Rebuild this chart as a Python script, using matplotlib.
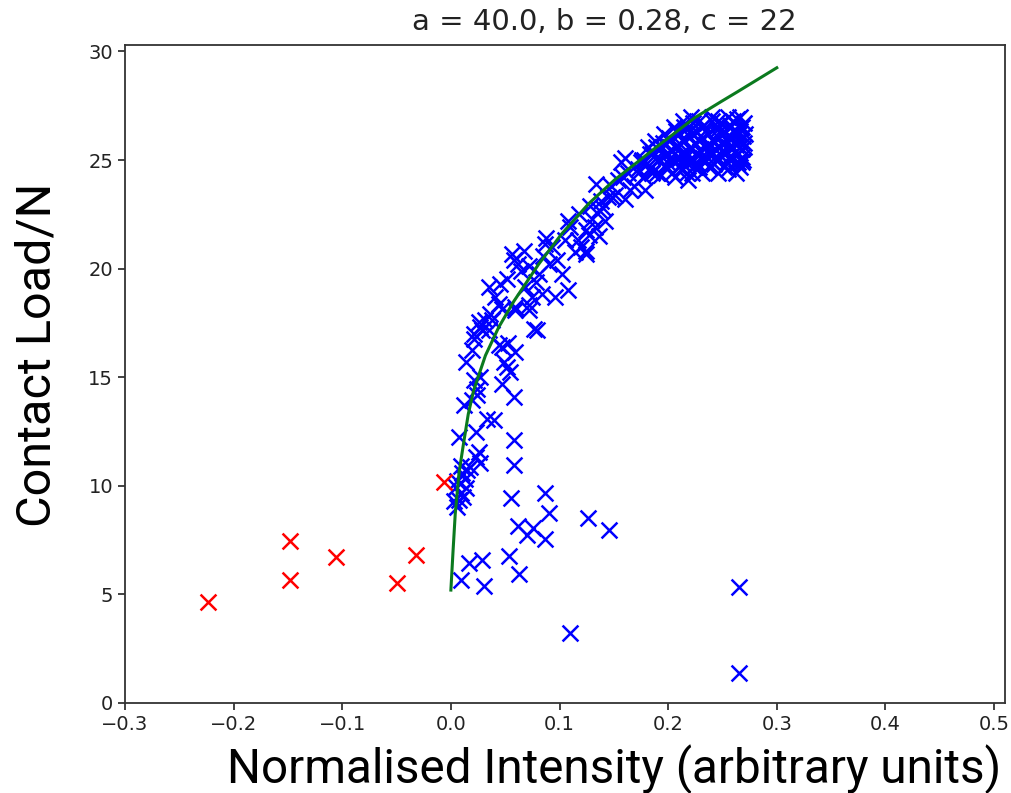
import matplotlib
matplotlib.use("Agg")
import matplotlib.pyplot as plt

# fitted curve
curve_x = [0.0, 0.002, 0.004, 0.0075, 0.0115, 0.016, 0.021, 0.0318, 0.044, 0.058,
           0.0807, 0.102, 0.127, 0.151, 0.169, 0.188, 0.2245, 0.249, 0.264, 0.3]
curve_y = [5.2, 7.0, 8.7, 10.6, 11.9, 13.3, 14.4, 16.0, 17.3, 18.5,
           20.2, 21.6, 23.0, 24.1, 24.8, 25.55, 26.95, 27.7, 28.15, 29.25]

# rejected points (red)
red_x = [-0.224, -0.148, -0.148, -0.106, -0.050, -0.032, -0.006]
red_y = [4.65, 7.46, 5.66, 6.72, 5.52, 6.81, 10.17]

# outliers below the curve
low_x = [0.058, 0.058, 0.0557, 0.0869, 0.090, 0.0618, 0.070, 0.076, 0.0869, 0.126,
         0.1456, 0.0287, 0.0165, 0.0089, 0.0538, 0.0624, 0.0303, 0.265, 0.1098, 0.265]
low_y = [12.13, 10.98, 9.42, 9.68, 8.73, 8.14, 7.73, 8.08, 7.53, 8.54,
         7.96, 6.58, 6.43, 5.66, 6.76, 5.94, 5.38, 5.35, 3.2, 1.39]

# steep part next to the curve
steep_x = [0.0058, 0.0073, 0.0089, 0.0135, 0.0043, 0.015, 0.0104, 0.018, 0.0227, 0.0272,
           0.0257, 0.0073, 0.0227, 0.0333, 0.0394, 0.012, 0.0196, 0.0241, 0.0272, 0.0241,
           0.021, 0.0135, 0.0196, 0.021, 0.0272, 0.0318, 0.0349, 0.0364, 0.044, 0.0471,
           0.0593, 0.0517, 0.0548, 0.0471, 0.0578, 0.0761, 0.079, 0.0486, 0.0716,
           0.003, 0.006, 0.011, 0.009, 0.013]
steep_y = [9.03, 9.34, 9.65, 9.88, 9.96, 10.72, 10.57, 10.88, 11.34, 11.03,
           11.56, 12.26, 12.49, 13.06, 13.02, 13.7, 13.94, 14.17, 15.02, 14.48,
           14.86, 15.7, 16.24, 17.01, 17.32, 17.62, 17.17, 17.93, 18.39, 16.4,
           16.18, 15.48, 15.25, 14.71, 14.1, 17.24, 17.19, 15.7, 18.32,
           9.3, 10.2, 9.5, 10.9, 10.3]

# middle band
mid_x = [0.035, 0.056, 0.058, 0.062, 0.0456, 0.052, 0.041, 0.0287, 0.021, 0.0257,
         0.0379, 0.0471, 0.059, 0.0746, 0.0685, 0.0838, 0.0807, 0.0899, 0.102, 0.108,
         0.096, 0.114, 0.124, 0.127, 0.105, 0.0869, 0.053, 0.044, 0.059, 0.0716,
         0.134, 0.157, 0.163, 0.169, 0.151, 0.136, 0.142, 0.108, 0.124, 0.117,
         0.136, 0.088, 0.067, 0.124, 0.179, 0.154, 0.145, 0.185, 0.185, 0.133,
         0.160, 0.148, 0.172, 0.218, 0.264, 0.221, 0.266, 0.255, 0.240,
         0.065, 0.072, 0.078, 0.085, 0.093, 0.098, 0.110, 0.118, 0.128, 0.138,
         0.147, 0.158, 0.165, 0.175, 0.120, 0.130, 0.140, 0.160]
mid_y = [19.16, 20.69, 20.39, 20.23, 19.3, 19.54, 18.7, 17.17, 16.78, 17.55,
         17.62, 18.16, 18.24, 18.7, 19.16, 18.85, 19.77, 20.23, 19.77, 19.0,
         18.7, 20.78, 20.69, 21.54, 21.3, 21.15, 16.56, 16.48, 18.1, 18.1,
         23.9, 24.9, 24.4, 23.8, 23.4, 22.7, 22.2, 22.2, 21.8, 21.3,
         21.5, 21.4, 20.8, 20.8, 23.6, 24.07, 23.3, 24.4, 25.4, 21.9,
         25.1, 23.3, 24.4, 24.07, 24.9, 26.98, 26.98, 26.98, 26.98,
         19.9, 20.1, 19.4, 20.6, 21.0, 20.4, 21.9, 22.5, 22.9, 23.1,
         23.8, 24.2, 23.6, 24.9, 21.0, 22.3, 22.8, 23.2]

# dense cluster at the top
top_x = [0.180, 0.183, 0.186, 0.189, 0.191, 0.193, 0.195, 0.197, 0.199, 0.201,
         0.203, 0.205, 0.206, 0.208, 0.209, 0.211, 0.212, 0.214, 0.215, 0.216,
         0.218, 0.219, 0.220, 0.222, 0.223, 0.224, 0.225, 0.227, 0.228, 0.229,
         0.231, 0.232, 0.233, 0.234, 0.236, 0.237, 0.238, 0.240, 0.241, 0.242,
         0.243, 0.245, 0.246, 0.247, 0.249, 0.250, 0.251, 0.252, 0.254, 0.255,
         0.256, 0.257, 0.258, 0.259, 0.261, 0.262, 0.263, 0.264, 0.265, 0.266,
         0.267, 0.268, 0.269, 0.270, 0.270, 0.268, 0.255, 0.172, 0.176, 0.178,
         0.190, 0.204, 0.217, 0.231, 0.246, 0.262,
         0.184, 0.197, 0.210, 0.224, 0.238, 0.251, 0.266,
         0.178, 0.192, 0.205, 0.219, 0.233, 0.244, 0.257, 0.269,
         0.185, 0.198, 0.212, 0.226, 0.239, 0.252, 0.263,
         0.181, 0.194, 0.207, 0.221, 0.235, 0.247, 0.259, 0.270,
         0.188, 0.201, 0.215, 0.228, 0.242, 0.254, 0.266,
         0.196, 0.210, 0.223, 0.237, 0.250, 0.262, 0.271,
         0.205, 0.218, 0.231, 0.244, 0.257, 0.268,
         0.214, 0.228, 0.246, 0.260,
         0.190, 0.203, 0.216, 0.230, 0.243, 0.256, 0.268,
         0.198, 0.211, 0.225, 0.238, 0.250, 0.262,
         0.207, 0.220, 0.234, 0.248, 0.260,
         0.200, 0.213, 0.227, 0.241, 0.255]
top_y = [24.8, 25.3, 24.5, 25.6, 25.0, 24.3, 25.8, 25.2, 24.7, 26.0,
         25.4, 24.9, 24.2, 25.7, 26.3, 25.1, 24.6, 25.9, 26.5, 25.3,
         24.8, 26.1, 25.5, 24.4, 26.7, 25.0, 25.8, 26.3, 24.7, 25.4,
         26.0, 25.1, 26.6, 24.9, 25.7, 26.2, 25.3, 26.8, 25.9, 24.8,
         25.5, 26.4, 25.1, 26.0, 26.7, 25.4, 25.8, 26.3, 24.9, 26.1,
         25.6, 26.6, 25.2, 26.0, 26.4, 25.7, 26.9, 25.3, 26.2, 25.9,
         26.5, 25.5, 26.1, 26.7, 25.8, 24.9, 24.6, 24.6, 25.0, 24.2,
         24.4, 24.4, 24.4, 24.4, 24.4, 24.4,
         24.7, 24.7, 24.7, 24.7, 24.7, 24.7, 24.7,
         25.0, 25.0, 25.0, 25.0, 25.0, 25.0, 25.0, 25.0,
         25.3, 25.3, 25.3, 25.3, 25.3, 25.3, 25.3,
         25.6, 25.6, 25.6, 25.6, 25.6, 25.6, 25.6, 25.6,
         25.9, 25.9, 25.9, 25.9, 25.9, 25.9, 25.9,
         26.2, 26.2, 26.2, 26.2, 26.2, 26.2, 26.2,
         26.5, 26.5, 26.5, 26.5, 26.5, 26.5,
         26.8, 26.8, 26.8, 26.8,
         25.15, 25.15, 25.15, 25.15, 25.15, 25.15, 25.15,
         25.75, 25.75, 25.75, 25.75, 25.75, 25.75,
         26.35, 26.35, 26.35, 26.35, 26.35,
         24.85, 24.85, 24.85, 24.85, 24.85]

blue_x = low_x + steep_x + mid_x + top_x
blue_y = low_y + steep_y + mid_y + top_y

fig = plt.figure(figsize=(10.11, 7.93), dpi=100)
ax = fig.add_axes([0.1236, 0.1135, 0.8704, 0.8298])

ax.scatter(blue_x, blue_y, marker="x", s=130, linewidths=1.8, color="#0000ff")
ax.scatter(red_x, red_y, marker="x", s=130, linewidths=1.8, color="#ff0000")
ax.plot(curve_x, curve_y, color="#0b7a1e", linewidth=2.2)

ax.set_xlim(-0.3, 0.51)
ax.set_ylim(0, 30.3)
ax.set_xticks([-0.3, -0.2, -0.1, 0.0, 0.1, 0.2, 0.3, 0.4, 0.5])
ax.set_yticks([0, 5, 10, 15, 20, 25, 30])
ax.tick_params(labelsize=14, colors="#222222", width=1.2, length=5)
for sp in ax.spines.values():
    sp.set_color("#333333")
    sp.set_linewidth(1.3)

fig.text(604 / 1011, 1 - 22 / 793, "a = 40.0, b = 0.28, c = 22", fontsize=21,
         color="#222222", ha="center", va="center")
fig.text(614 / 1011, 1 - 783 / 793, "Normalised Intensity (arbitrary units)",
         family="Roboto", fontsize=34.3, ha="center", va="baseline")
fig.text(38 / 1011, 1 - 355 / 793, "Contact Load/N", family="Roboto", fontsize=35,
         rotation=90, ha="center", va="center")

fig.savefig("out.png", dpi=100)
